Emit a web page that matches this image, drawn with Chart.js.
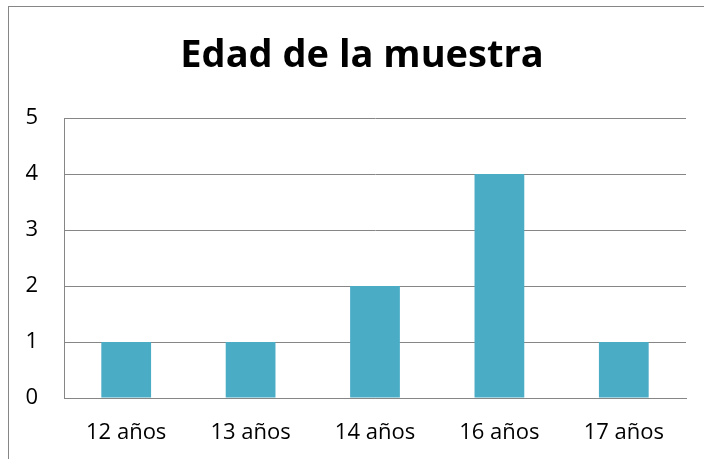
<!DOCTYPE html>
<html>
<head>
<meta charset="utf-8">
<script src="https://cdn.jsdelivr.net/npm/chart.js@4/dist/chart.umd.min.js"></script>
<style>
  html, body { margin: 0; padding: 0; background: #fff; }
  #wrap { position: relative; width: 704px; height: 459px; overflow: hidden; }
  #frame { position: absolute; left: 8px; top: 6px; width: 720px; height: 480px;
           border: 1px solid #868686; box-sizing: border-box; pointer-events: none; }
</style>
</head>
<body>
<div id="wrap">
  <canvas id="myChart" width="704" height="459"></canvas>
  <div id="frame"></div>
</div>
<script>
var categories = ["12 años", "13 años", "14 años", "16 años", "17 años"];
var counts = [1, 1, 2, 4, 1];
var yTicks = [0, 1, 2, 3, 4, 5];
var chartTitle = "Edad de la muestra";

// title is centred on the outer frame (which runs past the right edge), not on the canvas
var titlePlugin = {
  id: "frameTitle",
  afterDraw: function (chart) {
    var c = chart.ctx;
    c.save();
    c.font = "bold 38px 'Open Sans'";
    c.fillStyle = "#000";
    c.textAlign = "center";
    c.textBaseline = "alphabetic";
    c.fillText(chartTitle, 362, 67);
    c.restore();
  },
};

var ctx = document.getElementById("myChart").getContext("2d");
var chart = new Chart(ctx, {
  type: "bar",
  data: {
    labels: categories,
    datasets: [
      {
        label: "Edad",
        data: counts,
        backgroundColor: "#4BACC6",
        borderWidth: 0,
        barPercentage: 0.4,
        categoryPercentage: 1,
      },
    ],
  },
  options: {
    responsive: false,
    animation: false,
    layout: {
      padding: { left: 8, right: 18, top: 118, bottom: 0 },
    },
    plugins: {
      legend: { display: false },
      tooltip: { enabled: false },
      title: { display: false },
    },
    scales: {
      x: {
        grid: { display: false, drawTicks: false },
        border: { display: true, color: "#868686", width: 1 },
        ticks: {
          color: "#000",
          padding: 22,
          font: { family: "Open Sans", size: 22 },
        },
        afterFit: function (scale) { scale.height = 61; },
      },
      y: {
        min: 0,
        max: 5,
        afterBuildTicks: function (scale) {
          scale.ticks = yTicks.map(function (v) { return { value: v }; });
        },
        grid: { color: "#868686", lineWidth: 1, drawTicks: false },
        border: { display: true, color: "#868686", width: 1 },
        ticks: {
          color: "#000",
          padding: 26,
          font: { family: "Open Sans", size: 22 },
        },
        afterFit: function (scale) { scale.width = 56; },
      },
    },
  },
  plugins: [titlePlugin],
});
</script>
</body>
</html>
